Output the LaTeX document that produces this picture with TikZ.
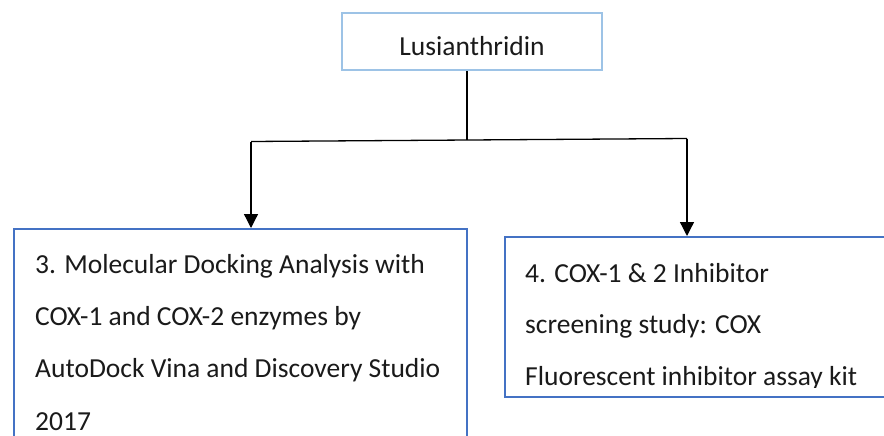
\documentclass[tikz,border=0pt]{standalone}
\usepackage{fontspec}
\setmainfont{Carlito}
\usetikzlibrary{arrows.meta}
\definecolor{paleblue}{HTML}{9DC3E6}
\definecolor{boxblue}{HTML}{4472C4}
\definecolor{ink}{HTML}{1A1A1A}
\tikzset{
  topbox/.style={draw=paleblue, line width=2.6pt, minimum width=260pt, minimum height=57pt, inner sep=0pt},
  stepbox/.style={draw=boxblue, line width=2.2pt, anchor=north west, inner sep=0pt},
  txt/.style={anchor=base west, inner sep=0pt, text=ink, font=\fontsize{27.5}{32}\selectfont},
  link/.style={line width=1.3pt, draw=black},
  tip/.style={link, -{Triangle[width=14pt,length=14pt]}}
}
\begin{document}
\begin{tikzpicture}[x=1pt,y=-1pt]
\useasboundingbox (0,0) rectangle (884,436);
\clip (0,0) rectangle (884,436);
\fill[white] (0,0) rectangle (884,436);

% source compound
\node[topbox] (top) at (472,41.5) {};
\node[txt, anchor=base] (toplbl) at (472,56) {Lusianthridin};

% two study boxes
\node[stepbox, minimum width=453pt, minimum height=250pt] (dock) at (13,228) {};
\node[stepbox, minimum width=420pt, minimum height=160pt] (assay) at (504,236) {};

% branching connector
\coordinate (split) at (467,140);
\coordinate (lc) at (251,141.5);
\coordinate (rc) at (687,138.5);
\draw[link] (top.south -| split) -- (split);
\draw[link] (lc) -- (rc);
\draw[tip] (lc) -- (lc |- dock.north);
\draw[tip] (rc) -- (rc |- assay.north);

% docking study text
\node[txt] (d1) at (35,273) {3. Molecular Docking Analysis with};
\node[txt] (d2) at (35,325) {COX-1 and COX-2 enzymes by};
\node[txt] (d3) at (35,377) {AutoDock Vina and Discovery Studio};
\node[txt] (d4) at (35,430) {2017};

% inhibitor screening text
\node[txt] (a1) at (525,282) {4. COX-1 \& 2 Inhibitor};
\node[txt] (a2) at (525,333) {screening study: COX};
\begin{scope}
  \clip (504,350) rectangle (884,387.5);
  \node[txt] (a3) at (525,385) {Fluorescent inhibitor assay kit};
\end{scope}
\end{tikzpicture}
\end{document}
